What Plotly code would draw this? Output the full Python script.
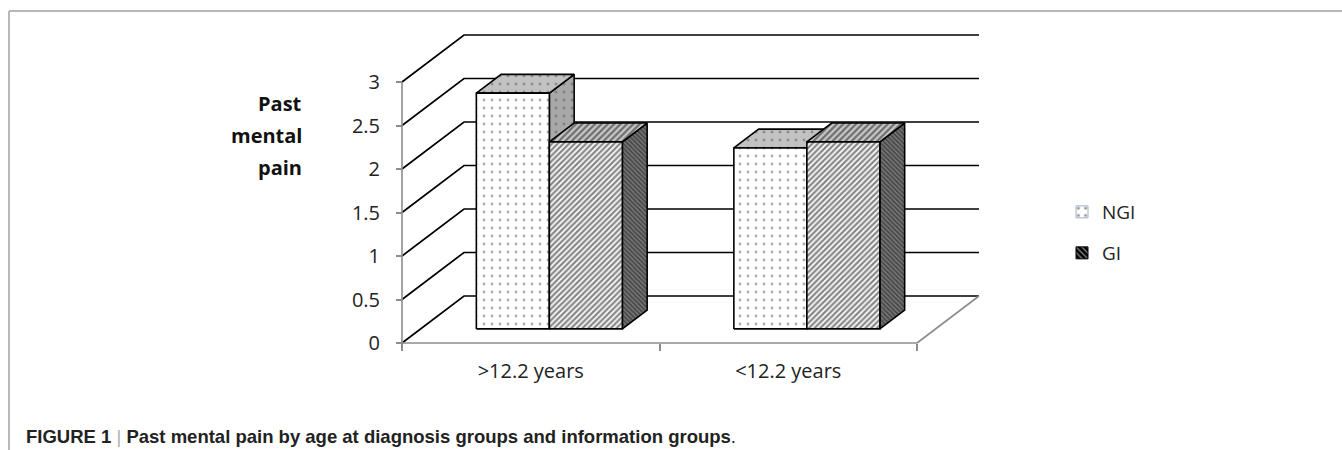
import plotly.graph_objects as go

# ---- data -------------------------------------------------------------
categories = [">12.2 years", "<12.2 years"]
series_names = ["NGI", "GI"]
ngi_values = [2.71, 2.08]
gi_values = [2.15, 2.15]
y_tick_values = [0, 0.5, 1, 1.5, 2, 2.5, 3]
y_tick_labels = ["0", "0.5", "1", "1.5", "2", "2.5", "3"]
y_title_lines = ["Past", "mental", "pain"]
caption_label = "FIGURE 1"
caption_text = "Past mental pain by age at diagnosis groups and information groups"

# ---- page geometry ----------------------------------------------------
W, H = 1342, 450
ORIGIN_PX = (402, 343)          # where value 0 of the first category sits
PX_PER_CATEGORY = 257.5
PX_PER_UNIT = 87.0
DEPTH_PX = (62, 47)             # oblique offset of the back wall

x_range = [-ORIGIN_PX[0] / PX_PER_CATEGORY, (W - ORIGIN_PX[0]) / PX_PER_CATEGORY]
y_range = [-(H - ORIGIN_PX[1]) / PX_PER_UNIT, ORIGIN_PX[1] / PX_PER_UNIT]

DX = DEPTH_PX[0] / PX_PER_CATEGORY   # depth vector in data units
DY = DEPTH_PX[1] / PX_PER_UNIT
BAR_W = 73 / PX_PER_CATEGORY         # width of one bar in category units
F_FRONT, F_BACK = 0.3, 0.7           # depth of the bar front / back faces

n_cat = len(categories)
FONT = "Open Sans"
GRAY_AXIS = "#8c8c8c"


def px_x(p):
    return p / W


def px_y(p):
    return 1 - p / H


fig = go.Figure()

# ---- walls: gridlines on side + back wall, floor edges ----------------
shapes = []
for v in y_tick_values:
    path = (f"M 0,{v} L {DX},{v + DY} L {n_cat + DX},{v + DY}")
    shapes.append(dict(type="path", path=path, xref="x", yref="y", layer="below",
                       line=dict(color="black", width=1.7)))
# floor front edge / category axis, value axis, floor right edge
shapes.append(dict(type="line", xref="x", yref="y", x0=0, y0=0, x1=n_cat, y1=0,
                   layer="below", line=dict(color=GRAY_AXIS, width=1.6)))
shapes.append(dict(type="line", xref="x", yref="y", x0=0, y0=0, x1=0, y1=max(y_tick_values),
                   layer="below", line=dict(color=GRAY_AXIS, width=1.6)))
shapes.append(dict(type="line", xref="x", yref="y", x0=n_cat, y0=0, x1=n_cat + DX, y1=DY,
                   layer="below", line=dict(color=GRAY_AXIS, width=1.6)))
# page frame
shapes.append(dict(type="line", xref="paper", yref="paper", x0=px_x(9), y0=px_y(11),
                   x1=1, y1=px_y(11), line=dict(color="#a0a0a0", width=1.5)))
shapes.append(dict(type="line", xref="paper", yref="paper", x0=px_x(9), y0=px_y(11),
                   x1=px_x(9), y1=0, line=dict(color="#a0a0a0", width=1.5)))


# ---- 3-D bars ---------------------------------------------------------
def face(xs, ys, bg, shape, fg, size, solidity):
    return go.Scatter(
        x=xs, y=ys, mode="lines", fill="toself", fillcolor=bg,
        line=dict(color="black", width=1.6),
        fillpattern=dict(shape=shape, bgcolor=bg, fgcolor=fg, size=size, solidity=solidity),
        hoverinfo="skip", showlegend=False,
    )


styles = {
    "NGI": dict(front=("white", ".", "#555", 8, 0.1),
                top=("#c2c2c2", ".", "#555", 8, 0.1),
                side=("#a8a8a8", ".", "#555", 8, 0.1)),
    "GI": dict(front=("white", "/", "#111", 4, 0.58),
               top=("#c8c8c8", "/", "#111", 4.5, 0.5),
               side=("#7a7a7a", "\\", "#111", 3.2, 0.55)),
}


def add_box(x0, x1, h, st):
    fx, fy = F_FRONT * DX, F_FRONT * DY
    bx, by = F_BACK * DX, F_BACK * DY
    side = ([x1 + fx, x1 + bx, x1 + bx, x1 + fx, x1 + fx],
            [fy, by, h + by, h + fy, fy])
    top = ([x0 + fx, x1 + fx, x1 + bx, x0 + bx, x0 + fx],
           [h + fy, h + fy, h + by, h + by, h + fy])
    front = ([x0 + fx, x1 + fx, x1 + fx, x0 + fx, x0 + fx],
             [fy, fy, h + fy, h + fy, fy])
    fig.add_trace(face(*side, *st["side"]))
    fig.add_trace(face(*top, *st["top"]))
    fig.add_trace(face(*front, *st["front"]))


for i in range(n_cat):
    center = i + 0.5
    for k, (name, values) in enumerate(zip(series_names, [ngi_values, gi_values])):
        x0 = center - BAR_W + k * BAR_W
        add_box(x0, x0 + BAR_W, values[i], styles[name])

# ---- legend entries ---------------------------------------------------
fig.add_trace(go.Bar(
    x=[None], y=[None], name=series_names[0], legend="legend",
    marker=dict(color="white", line=dict(color="#9fb0c8", width=1),
                pattern=dict(shape=".", fgcolor="#333", bgcolor="white", size=9, solidity=0.15)),
))
fig.add_trace(go.Bar(
    x=[None], y=[None], name=series_names[1], legend="legend2",
    marker=dict(color="black", line=dict(color="black", width=1),
                pattern=dict(shape="\\", fgcolor="white", bgcolor="black", size=5, solidity=0.35)),
))

legend_common = dict(font=dict(family=FONT, size=19, color="#222"), bgcolor="rgba(0,0,0,0)",
                     xanchor="left", yanchor="middle", itemclick=False)

# ---- annotations ------------------------------------------------------
annotations = []
for line, y_px in zip(y_title_lines, [104, 136, 167]):
    annotations.append(dict(text=f"<b>{line}</b>", xref="paper", yref="paper",
                             x=px_x(304), y=px_y(y_px), xanchor="right", yanchor="middle",
                             showarrow=False, font=dict(family=FONT, size=20, color="#111")))
annotations.append(dict(
    text=(f"<b>{caption_label}</b> <span style='color:#b0b0b0'>|</span> "
          f"<b>{caption_text}</b>."),
    xref="paper", yref="paper", x=px_x(24), y=px_y(436), xanchor="left", yanchor="middle",
    showarrow=False, font=dict(family="Liberation Sans", size=18.5, color="#222"),
))

fig.update_layout(
    width=W, height=H,
    margin=dict(l=0, r=0, t=0, b=0),
    paper_bgcolor="white", plot_bgcolor="white",
    showlegend=True,
    legend=dict(x=px_x(1062), y=px_y(212), **legend_common),
    legend2=dict(x=px_x(1062), y=px_y(253), **legend_common),
    shapes=shapes,
    annotations=annotations,
    xaxis=dict(
        range=x_range, fixedrange=True, showgrid=False, zeroline=False, showline=False,
        anchor="free", position=px_y(ORIGIN_PX[1]),
        tickmode="array", tickvals=[i + 0.5 for i in range(n_cat)], ticktext=categories,
        ticks="", ticklabelstandoff=14,
        tickfont=dict(family=FONT, size=20, color="#222"),
        minor=dict(tickmode="array", tickvals=list(range(n_cat + 1)), ticks="outside",
                   ticklen=7, tickwidth=1.5, tickcolor=GRAY_AXIS),
    ),
    yaxis=dict(
        range=y_range, fixedrange=True, showgrid=False, zeroline=False, showline=False,
        anchor="free", position=px_x(ORIGIN_PX[0]),
        tickmode="array", tickvals=y_tick_values, ticktext=y_tick_labels,
        ticks="outside", ticklen=6, tickwidth=1.5, tickcolor=GRAY_AXIS,
        ticklabelstandoff=12,
        tickfont=dict(family=FONT, size=20, color="#222"),
    ),
)

fig.write_html("out.html")
